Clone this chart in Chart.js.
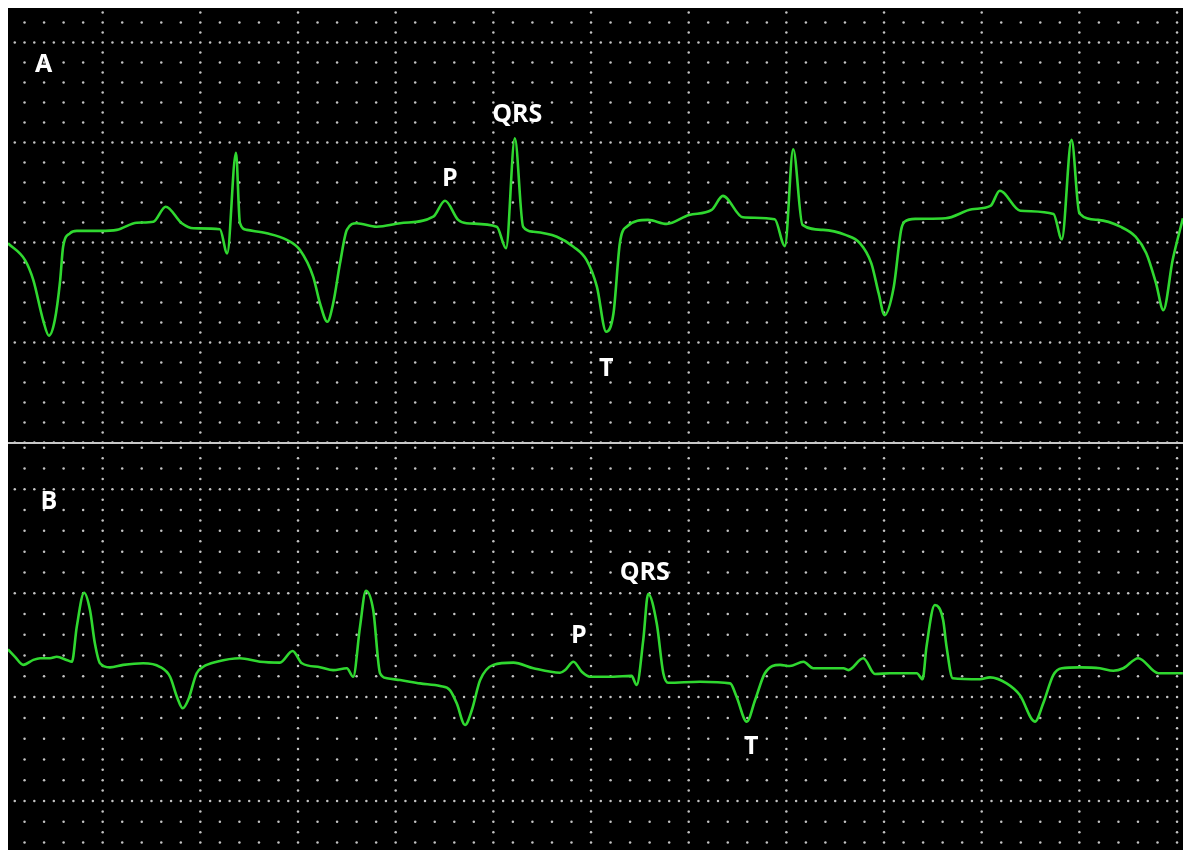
<!DOCTYPE html>
<html><head><meta charset="utf-8">
<script src="https://cdn.jsdelivr.net/npm/chart.js@4.4.1/dist/chart.umd.min.js"></script>
<style>
html,body{margin:0;padding:0;background:#fff;width:1183px;height:850px;overflow:hidden;}
#panel{position:absolute;left:8px;top:8px;width:1175px;height:842px;background:#000;}
#cA{position:absolute;left:0;top:0;}
#cB{position:absolute;left:0;top:436px;}
#divider{position:absolute;left:0;top:434px;width:1175px;height:2px;background:#c8c8c8;}
</style></head>
<body>
<div id="panel">
  <canvas id="cA" width="1175" height="435"></canvas>
  <div id="divider"></div>
  <canvas id="cB" width="1175" height="406"></canvas>
</div>
<script>
// ---- Data (time in ms, voltage in mV) ----
const timeA = [6,41,58,78,90,102,113,119,133,147,195,229,270,304,329,362,386,440,455,473,481,495,536,577,604,631,645,660,672,686,700,720,761,809,877,901,928,945,1007,1026,1044,1061,1082,1130,1164,1191,1212,1231,1246,1259,1273,1317,1355,1401,1447,1470,1511,1576,1597,1614,1633,1675,1721,1751,1774,1789,1801,1820,1835,1842,1865,1926,1980,2018,2037,2079,2147,2164,2184,2200,2238,2284,2315,2337,2357,2372,2391,2412];
const voltA = [-0.004,-0.088,-0.188,-0.388,-0.466,-0.388,-0.188,-0.021,0.046,0.058,0.058,0.063,0.099,0.104,0.179,0.096,0.071,0.066,-0.054,0.449,0.098,0.063,0.046,0.013,-0.038,-0.171,-0.304,-0.396,-0.304,-0.104,0.063,0.096,0.079,0.096,0.129,0.209,0.113,0.096,0.079,-0.029,0.521,0.079,0.054,0.029,-0.021,-0.088,-0.221,-0.446,-0.354,-0.004,0.079,0.113,0.093,0.138,0.163,0.233,0.126,0.116,-0.018,0.466,0.088,0.063,0.038,-0.004,-0.104,-0.254,-0.363,-0.221,0.063,0.104,0.118,0.121,0.166,0.183,0.259,0.159,0.143,0.016,0.513,0.146,0.113,0.079,0.029,-0.054,-0.204,-0.338,-0.088,0.121];

const timeB = [6,20.5,37.5,58,72,92,106,126,137,147,162,174,184,194.5,215,242,283,317,338,352,364,375,392.5,406,433.5,481,522,563,589,608,645,672,700,713,727,739,754,768,782,809,850,891,911,925,942,956,973,1000,1041,1082,1136.5,1147,1164,1181,1198,1246,1283,1293.5,1307,1317,1334.5,1348,1358,1423,1485,1498,1519,1536,1556,1587,1607,1635,1655,1717,1727,1757.5,1781.5,1812,1867,1879,1887,1904,1921,1928,1940.6,1996.5,2017,2051,2078,2109,2126,2146.6,2164,2201,2242,2269.5,2290,2320.6,2361.5,2412];
const voltB = [0.230,0.194,0.155,0.179,0.187,0.187,0.194,0.179,0.170,0.339,0.502,0.419,0.259,0.163,0.143,0.155,0.163,0.146,0.098,0.002,-0.054,-0.014,0.115,0.146,0.170,0.187,0.170,0.166,0.222,0.163,0.144,0.130,0.139,0.098,0.339,0.512,0.419,0.115,0.091,0.082,0.066,0.053,0.034,-0.030,-0.134,-0.062,0.082,0.155,0.166,0.139,0.117,0.130,0.170,0.122,0.098,0.098,0.102,0.058,0.275,0.496,0.355,0.115,0.069,0.074,0.066,0.002,-0.118,-0.014,0.115,0.155,0.150,0.170,0.139,0.139,0.130,0.187,0.111,0.115,0.115,0.086,0.243,0.443,0.371,0.243,0.091,0.086,0.095,0.066,0.010,-0.118,-0.030,0.106,0.139,0.143,0.139,0.127,0.139,0.187,0.115,0.115];

// annotation labels (text, time, voltage)
const labelTextA = ['A','P','QRS','T'];
const labelTimeA = [79,911,1049,1231];
const labelVoltA = [0.899,0.328,0.650,-0.623];
const labelTextB = ['B','P','QRS','T'];
const labelTimeB = [90,1175,1310,1528];
const labelVoltB = [0.949,0.304,0.607,-0.231];

const xRange = [6.14, 2412.2];
const yRangeA = [-1.0025, 1.1725];
const yRangeB = [-0.7358, 1.218];

// ---- Plugins ----
const mod = (a,n)=>((a%n)+n)%n;
const dotGrid = {
  id:'dotGrid',
  beforeDatasetsDraw(chart){
    const {ctx, scales:{x,y}} = chart;
    ctx.save();
    ctx.fillStyle = '#c4c4c4';
    const i0 = Math.ceil(x.min/20), i1 = Math.floor(x.max/20);
    const j0 = Math.ceil(y.min/0.05 - 1e-6), j1 = Math.floor(y.max/0.05 + 1e-6);
    for (let i=i0;i<=i1;i++){
      const px = x.getPixelForValue(i*20);
      for (let j=j0;j<=j1;j++){
        const majorCol = mod(i,10)===0, majorRow = mod(j,10)===0;
        const minor = mod(i,2)===0 && mod(j,2)===0;
        if (minor || majorCol || majorRow){
          const py = y.getPixelForValue(j*0.05);
          ctx.beginPath();
          ctx.arc(px, py, 1.25, 0, Math.PI*2);
          ctx.fill();
        }
      }
    }
    ctx.restore();
  }
};
const labelPlugin = {
  id:'labels',
  afterDatasetsDraw(chart, args, opts){
    const {ctx, scales:{x,y}} = chart;
    ctx.save();
    ctx.fillStyle = '#ffffff';
    ctx.font = 'bold 25px "Open Sans", "DejaVu Sans", sans-serif';
    ctx.textAlign = 'center';
    ctx.textBaseline = 'alphabetic';
    opts.text.forEach((t,k)=>{
      const px = x.getPixelForValue(opts.time[k]);
      const py = y.getPixelForValue(opts.volt[k]);
      ctx.fillText(t, px, py + 9);
    });
    ctx.restore();
  }
};

function makeChart(id, times, volts, yr, lt, ltime, lvolt){
  return new Chart(document.getElementById(id), {
    type:'line',
    data:{ datasets:[{
      data: times.map((t,i)=>({x:t, y:volts[i]})),
      borderColor:'#30d830',
      borderWidth:2.6,
      pointRadius:0,
      cubicInterpolationMode:'monotone',
      fill:false
    }]},
    options:{
      responsive:false,
      animation:false,
      devicePixelRatio:1,
      layout:{padding:0},
      scales:{
        x:{type:'linear', min:xRange[0], max:xRange[1], display:false},
        y:{type:'linear', min:yr[0], max:yr[1], display:false}
      },
      plugins:{
        legend:{display:false},
        tooltip:{enabled:false},
        labels:{text:lt, time:ltime, volt:lvolt}
      }
    },
    plugins:[dotGrid, labelPlugin]
  });
}
makeChart('cA', timeA, voltA, yRangeA, labelTextA, labelTimeA, labelVoltA);
makeChart('cB', timeB, voltB, yRangeB, labelTextB, labelTimeB, labelVoltB);
</script>
</body></html>
